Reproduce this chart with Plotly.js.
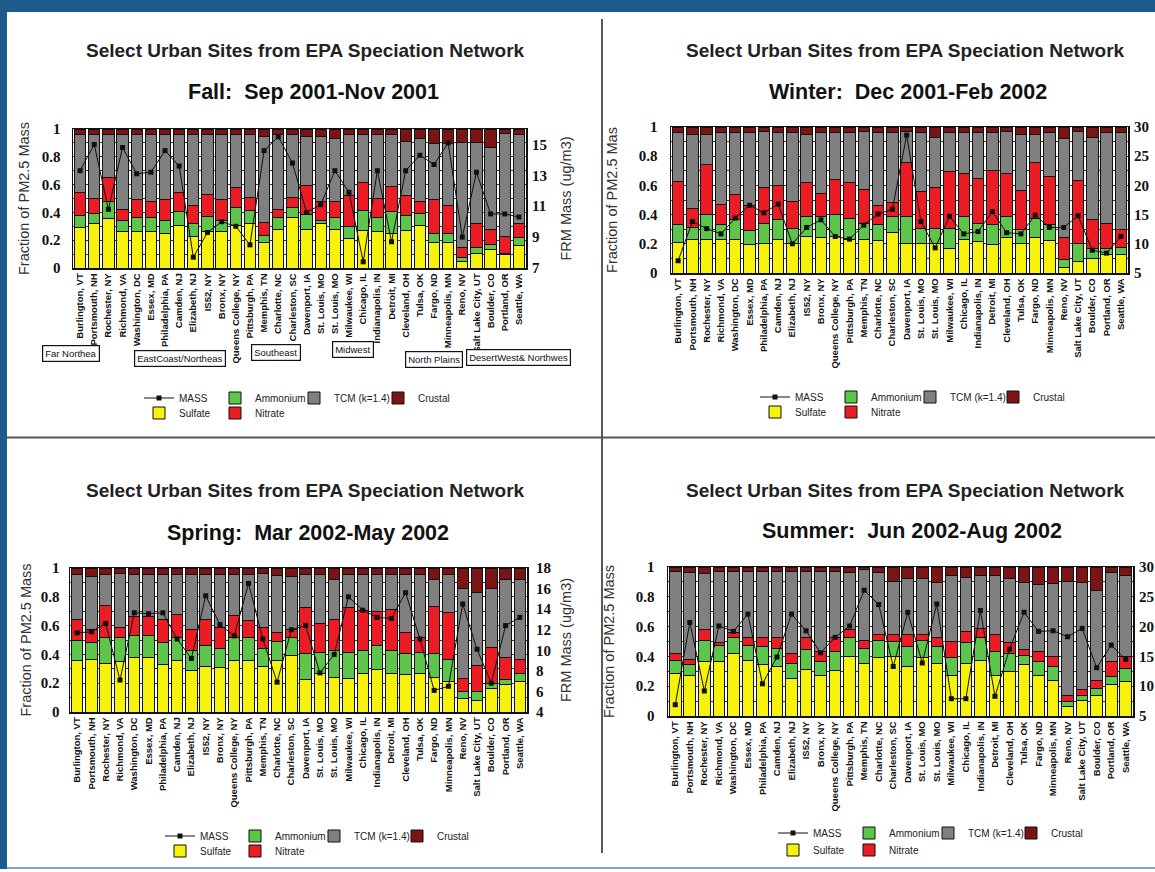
<!DOCTYPE html>
<html>
<head>
<meta charset="utf-8">
<script src="https://cdn.plot.ly/plotly-3.0.1.min.js"></script>
<style>html,body{margin:0;padding:0;background:#fff;}#chart{width:1155px;height:872px;}</style>
</head>
<body>
<div id="chart"></div>
<script>
// ---------------- DATA ----------------
const sites = ["Burlington, VT","Portsmouth, NH","Rochester, NY","Richmond, VA","Washington, DC","Essex, MD",
  "Philadelphia, PA","Camden, NJ","Elizabeth, NJ","IS52, NY","Bronx, NY","Queens College, NY","Pittsburgh, PA",
  "Memphis, TN","Charlotte, NC","Charleston, SC","Davenport, IA","St. Louis, MO","St. Louis, MO","Milwaukee, WI",
  "Chicago, IL","Indianapolis, IN","Detroit, MI","Cleveland, OH","Tulsa, OK","Fargo, ND","Minneapolis, MN",
  "Reno, NV","Salt Lake City, UT","Boulder, CO","Portland, OR","Seattle, WA"];

const fallSulfate  = [.295,.32,.355,.265,.265,.265,.25,.305,.225,.265,.26,.305,.32,.185,.28,.36,.28,.32,.28,.21,.27,.26,.245,.27,.305,.185,.18,.05,.105,.13,.095,.16];
const fallAmmonium = [.085,.07,.125,.075,.095,.095,.095,.105,.095,.105,.085,.13,.095,.05,.08,.075,.105,.025,.085,.09,.145,.10,.16,.11,.09,.065,.07,.025,.045,.04,.01,.06];
const fallNitrate  = [.165,.11,.17,.08,.13,.115,.145,.135,.13,.16,.145,.145,.09,.095,.06,.07,.21,.13,.115,.225,.20,.14,.18,.145,.08,.24,.20,.075,.17,.105,.12,.10];
const fallTCM      = [.415,.46,.31,.54,.47,.485,.47,.415,.51,.43,.47,.38,.455,.615,.54,.455,.35,.47,.455,.435,.345,.46,.375,.385,.46,.405,.445,.755,.585,.595,.745,.64];
const fallCrustal  = [.04,.04,.04,.04,.04,.04,.04,.04,.04,.04,.04,.04,.04,.055,.04,.04,.055,.055,.065,.04,.04,.04,.04,.09,.065,.105,.105,.095,.095,.13,.03,.04];
const fallMass     = [13.3,15.0,10.8,14.8,13.1,13.2,14.6,13.6,7.7,9.3,10.0,9.7,8.5,14.6,15.5,13.8,10.6,11.1,13.3,11.9,7.4,13.3,8.7,13.3,14.3,13.7,15.1,9.0,13.2,10.5,10.5,10.3];

const winterSulfate  = [.21,.23,.23,.23,.23,.195,.20,.23,.205,.25,.245,.25,.23,.23,.225,.28,.20,.20,.20,.165,.23,.215,.195,.24,.205,.24,.225,.035,.08,.10,.13,.125];
const winterAmmonium = [.12,.085,.17,.10,.135,.095,.14,.135,.10,.14,.145,.15,.145,.11,.105,.11,.185,.105,.105,.14,.16,.125,.135,.15,.09,.135,.105,.055,.125,.07,.035,.05];
const winterNitrate  = [.30,.13,.345,.14,.17,.175,.245,.235,.185,.23,.155,.24,.245,.235,.135,.09,.375,.25,.28,.39,.29,.31,.375,.29,.27,.385,.33,.15,.43,.195,.175,.12];
const winterTCM      = [.335,.505,.205,.495,.43,.50,.385,.365,.475,.33,.42,.325,.345,.395,.50,.485,.21,.41,.345,.27,.285,.315,.26,.29,.385,.19,.305,.68,.335,.565,.625,.67];
const winterCrustal  = [.035,.05,.05,.035,.035,.035,.03,.035,.035,.05,.035,.035,.035,.03,.035,.035,.03,.035,.07,.035,.035,.035,.035,.03,.05,.05,.035,.08,.03,.07,.035,.035];
const winterMass     = [7.1,13.8,12.6,11.7,14.4,16.6,15.3,16.8,10.0,12.8,14.1,11.25,10.8,13.2,15.1,15.9,28.6,13.8,9.3,14.7,11.7,12.1,15.5,11.9,11.7,14.9,12.8,12.8,14.8,8.9,8.4,11.25];

const springSulfate  = [.355,.365,.34,.35,.38,.38,.33,.355,.285,.315,.31,.355,.355,.315,.355,.39,.225,.27,.24,.235,.27,.295,.27,.26,.27,.24,.21,.095,.08,.165,.19,.21];
const springAmmonium = [.145,.115,.18,.17,.15,.15,.15,.165,.14,.15,.13,.16,.165,.125,.135,.13,.18,.14,.185,.175,.16,.165,.16,.145,.14,.165,.155,.045,.065,.035,.035,.06];
const springNitrate  = [.145,.095,.22,.07,.135,.13,.165,.16,.145,.18,.15,.155,.115,.145,.065,.055,.32,.205,.215,.315,.275,.235,.28,.15,.105,.325,.325,.09,.175,.245,.155,.095];
const springTCM      = [.31,.365,.215,.375,.29,.295,.31,.275,.385,.31,.365,.285,.32,.38,.39,.365,.23,.34,.28,.23,.25,.26,.245,.40,.44,.19,.265,.63,.51,.415,.54,.555];
const springCrustal  = [.045,.06,.045,.035,.045,.045,.045,.045,.045,.045,.045,.045,.045,.035,.055,.06,.045,.045,.08,.045,.045,.045,.045,.045,.045,.08,.045,.14,.17,.14,.08,.08];
const springMass     = [11.7,11.8,12.6,7.1,13.65,13.55,13.65,11.1,9.2,15.3,12.5,11.4,16.5,11.1,6.9,12.0,12.4,7.8,9.6,15.2,13.9,13.2,13.1,15.6,11.1,6.1,6.5,14.5,10.1,6.8,12.4,13.2];

const summerSulfate  = [.285,.27,.365,.365,.42,.375,.345,.33,.255,.31,.27,.305,.40,.35,.395,.40,.33,.39,.355,.275,.35,.375,.275,.30,.345,.27,.24,.065,.105,.14,.21,.23];
const summerAmmonium = [.09,.075,.145,.105,.11,.095,.12,.125,.10,.135,.095,.13,.13,.105,.115,.10,.135,.12,.11,.115,.14,.15,.16,.12,.06,.095,.09,.035,.035,.045,.055,.09];
const summerNitrate  = [.045,.035,.07,.02,.03,.06,.06,.07,.065,.085,.07,.09,.05,.055,.035,.045,.08,.035,.065,.11,.08,.065,.11,.07,.04,.07,.07,.04,.035,.055,.10,.08];
const summerTCM      = [.55,.585,.375,.48,.41,.44,.445,.445,.55,.44,.535,.445,.38,.47,.42,.36,.375,.38,.365,.44,.36,.35,.395,.43,.45,.45,.49,.765,.72,.60,.60,.54];
const summerCrustal  = [.03,.035,.045,.03,.03,.03,.03,.03,.03,.03,.03,.03,.04,.02,.035,.095,.08,.075,.105,.06,.07,.06,.06,.08,.105,.115,.11,.095,.105,.16,.035,.06];
const summerMass     = [6.9,20.7,9.2,20.1,19.2,22.1,10.4,14.9,22.1,19.3,15.6,18.2,20.1,26.1,23.7,13.3,22.4,13.9,23.8,7.9,7.9,22.7,8.3,16.2,22.4,19.2,19.3,18.3,19.7,13.1,16.9,14.5];

const mainTitle = "Select Urban Sites from EPA Speciation Network";
const seasonTitles = ["Fall:  Sep 2001-Nov 2001","Winter:  Dec 2001-Feb 2002","Spring:  Mar 2002-May 2002","Summer:  Jun 2002-Aug 2002"];
const leftTitles = ["Fraction of PM2.5 Mass","Fraction of PM2.5 Mas","Fraction of PM2.5 Mass","Fraction of PM2.5 Mass"];
const rightTitles = ["FRM Mass (ug/m3)","","FRM Mass (ug/m3)",""];
const regionLabels = ["Far Northea","EastCoast/Northeas","Southeast","Midwest","North Plains","DesertWest& Northwes"];
const componentNames = ["Sulfate","Ammonium","Nitrate","TCM (k=1.4)","Crustal"];

// ---------------- STYLE / LAYOUT ----------------
const W = 1155, H = 872;
const X = px => px / W;
const Y = py => 1 - py / H;
const colors = ["#f6f20c","#5cc54a","#ec1c24","#808080","#7c1416"];
const SANS = "Liberation Sans, Arial, sans-serif";
const SERIF = "Liberation Serif, Times New Roman, serif";

const xs = sites.map((_, i) => i);

const seasons = [
  {comp:[fallSulfate,fallAmmonium,fallNitrate,fallTCM,fallCrustal], mass:fallMass,
   px:[73,526], py:[129,268], rRange:[7,16], rDtick:2, rTick0:7,
   titleX:305, subX:313, titleY:50, subY:92, lStand:8, lTitleStand:8, rStand:5, rTitleStand:14,
   legX:[179,255,334,418], legRow:[398,413]},
  {comp:[winterSulfate,winterAmmonium,winterNitrate,winterTCM,winterCrustal], mass:winterMass,
   px:[671,1128], py:[127,273], rRange:[5,30], rDtick:5, rTick0:5,
   titleX:905, subX:908, titleY:50, subY:92, lStand:9, lTitleStand:17, rStand:5, rTitleStand:10,
   legX:[795,871,950,1033], legRow:[397,412]},
  {comp:[springSulfate,springAmmonium,springNitrate,springTCM,springCrustal], mass:springMass,
   px:[70,527], py:[568,712], rRange:[4,18], rDtick:2, rTick0:4,
   titleX:305, subX:308, titleY:490, subY:533, lStand:6, lTitleStand:5, rStand:8, rTitleStand:10,
   legX:[200,275,354,437], legRow:[836,851]},
  {comp:[summerSulfate,summerAmmonium,summerNitrate,summerTCM,summerCrustal], mass:summerMass,
   px:[668,1133], py:[567,716], rRange:[5,30], rDtick:5, rTick0:5,
   titleX:905, subX:912, titleY:490, subY:531, lStand:9, lTitleStand:17, rStand:5, rTitleStand:10,
   legX:[813,889,968,1051], legRow:[833,850]}
];

const traces = [];
const layout = {
  width: W, height: H,
  margin: {l:0, r:0, t:0, b:0},
  paper_bgcolor: "#ffffff",
  plot_bgcolor: "#ffffff",
  barmode: "stack",
  bargap: 0.2,
  showlegend: true,
  font: {family: SANS, color: "#111"},
  annotations: [],
  shapes: []
};

function legendId(n) { return n === 1 ? "legend" : "legend" + n; }

seasons.forEach((s, p) => {
  const xa = "x" + (p + 1), ya = "y" + (p + 1), yr = "y" + (p + 5);
  const xKey = "xaxis" + (p + 1), yKey = "yaxis" + (p + 1), yrKey = "yaxis" + (p + 5);
  // legend slots: MASS, Ammonium, TCM, Crustal (row 1); Sulfate, Nitrate (row 2)
  const slots = {
    "MASS":[s.legX[0], s.legRow[0]], "Ammonium":[s.legX[1], s.legRow[0]],
    "TCM (k=1.4)":[s.legX[2], s.legRow[0]], "Crustal":[s.legX[3], s.legRow[0]],
    "Sulfate":[s.legX[0], s.legRow[1]], "Nitrate":[s.legX[1], s.legRow[1]]
  };
  const order = ["MASS","Ammonium","TCM (k=1.4)","Crustal","Sulfate","Nitrate"];
  const legFor = {};
  order.forEach((nm, k) => {
    const n = p * 6 + k + 1;
    legFor[nm] = legendId(n);
    const pos = slots[nm];
    layout[legendId(n)] = {
      x: X(pos[0] - 40), y: Y(pos[1]), xanchor: "left", yanchor: "middle",
      orientation: "h", bgcolor: "rgba(0,0,0,0)", borderwidth: 0,
      font: {family: SANS, size: 10, color: "#222"}
    };
  });

  componentNames.forEach((nm, c) => {
    traces.push({
      type: "bar", name: nm, x: xs, y: s.comp[c], xaxis: xa, yaxis: ya,
      marker: {color: colors[c], line: {color: "#111", width: 1}},
      legend: legFor[nm], showlegend: true, hoverinfo: "y+name"
    });
  });
  traces.push({
    type: "scatter", mode: "lines+markers", name: "MASS", x: xs, y: s.mass,
    xaxis: xa, yaxis: yr, line: {color: "#111", width: 1},
    marker: {symbol: "square", size: 5, color: "#111"},
    legend: legFor["MASS"], showlegend: true
  });

  const xdom = [X(s.px[0]), X(s.px[1])];
  const ydom = [Y(s.py[1]), Y(s.py[0])];
  layout[xKey] = {
    domain: xdom, anchor: ya, range: [-0.5, 31.5],
    tickmode: "array", tickvals: xs, ticktext: sites, tickangle: -90,
    tickfont: {family: SANS, size: 9.5, color: "#111", weight: "bold"},
    showline: true, mirror: true, linecolor: "#111", linewidth: 1.5,
    ticks: "", showgrid: false, zeroline: false, fixedrange: true
  };
  layout[yKey] = {
    domain: ydom, anchor: xa, range: [0, 1], dtick: 0.2, tick0: 0,
    tickfont: {family: SERIF, size: 15, color: "#111", weight: "bold"},
    ticklabelstandoff: s.lStand,
    title: {text: leftTitles[p], font: {family: SANS, size: 14.5, color: "#333"}, standoff: s.lTitleStand},
    showline: true, mirror: true, linecolor: "#111", linewidth: 1.5,
    ticks: "", showgrid: true, gridcolor: "#333", gridwidth: 1,
    minor: {dtick: 0.1, showgrid: true, gridcolor: "#333", gridwidth: 1},
    zeroline: false, fixedrange: true
  };
  layout[yrKey] = {
    domain: ydom, anchor: xa, overlaying: ya, side: "right",
    range: s.rRange, dtick: s.rDtick, tick0: s.rTick0,
    tickfont: {family: SERIF, size: 15, color: "#111", weight: "bold"},
    ticklabelstandoff: s.rStand,
    title: {text: rightTitles[p], font: {family: SANS, size: 14.5, color: "#333"}, standoff: s.rTitleStand},
    showline: false, ticks: "", showgrid: false, zeroline: false, fixedrange: true
  };

  layout.annotations.push({
    xref: "paper", yref: "paper", x: X(s.titleX), y: Y(s.titleY), xanchor: "center", yanchor: "middle",
    text: mainTitle, showarrow: false, font: {family: SANS, size: 19, color: "#222", weight: "bold"}
  });
  layout.annotations.push({
    xref: "paper", yref: "paper", x: X(s.subX), y: Y(s.subY), xanchor: "center", yanchor: "middle",
    text: seasonTitles[p], showarrow: false, font: {family: SANS, size: 21.5, color: "#111", weight: "bold"}
  });
});

// Region labels (Fall panel)
const regionPos = [[71,354],[180,358],[276,352],[353,349],[434,359],[518,357]];
regionLabels.forEach((t, i) => {
  layout.annotations.push({
    xref: "paper", yref: "paper", x: X(regionPos[i][0]), y: Y(regionPos[i][1]),
    xanchor: "center", yanchor: "middle", text: t, showarrow: false,
    font: {family: SANS, size: 9.5, color: "#111"},
    bordercolor: "#111", borderwidth: 1.2, borderpad: 2, bgcolor: "#fff"
  });
});

// Page frame and dividers
const pshape = (o) => Object.assign({xref: "paper", yref: "paper", layer: "above"}, o);
layout.shapes.push(pshape({type: "rect", x0: 0, x1: 1, y0: Y(12), y1: 1, fillcolor: "#1f5a8c", line: {width: 0}}));
layout.shapes.push(pshape({type: "rect", x0: 0, x1: X(7), y0: Y(869), y1: 1, fillcolor: "#1f5a8c", line: {width: 0}}));
layout.shapes.push(pshape({type: "line", x0: X(7), x1: 1, y0: Y(868), y1: Y(868), line: {color: "#7fa3c4", width: 2}}));
layout.shapes.push(pshape({type: "line", x0: X(602), x1: X(602), y0: Y(853), y1: Y(19), line: {color: "#222", width: 1.5}}));
layout.shapes.push(pshape({type: "line", x0: X(7), x1: 1, y0: Y(437.5), y1: Y(437.5), line: {color: "#555", width: 2}}));

Plotly.newPlot("chart", traces, layout, {staticPlot: true, displayModeBar: false});
</script>
</body>
</html>
